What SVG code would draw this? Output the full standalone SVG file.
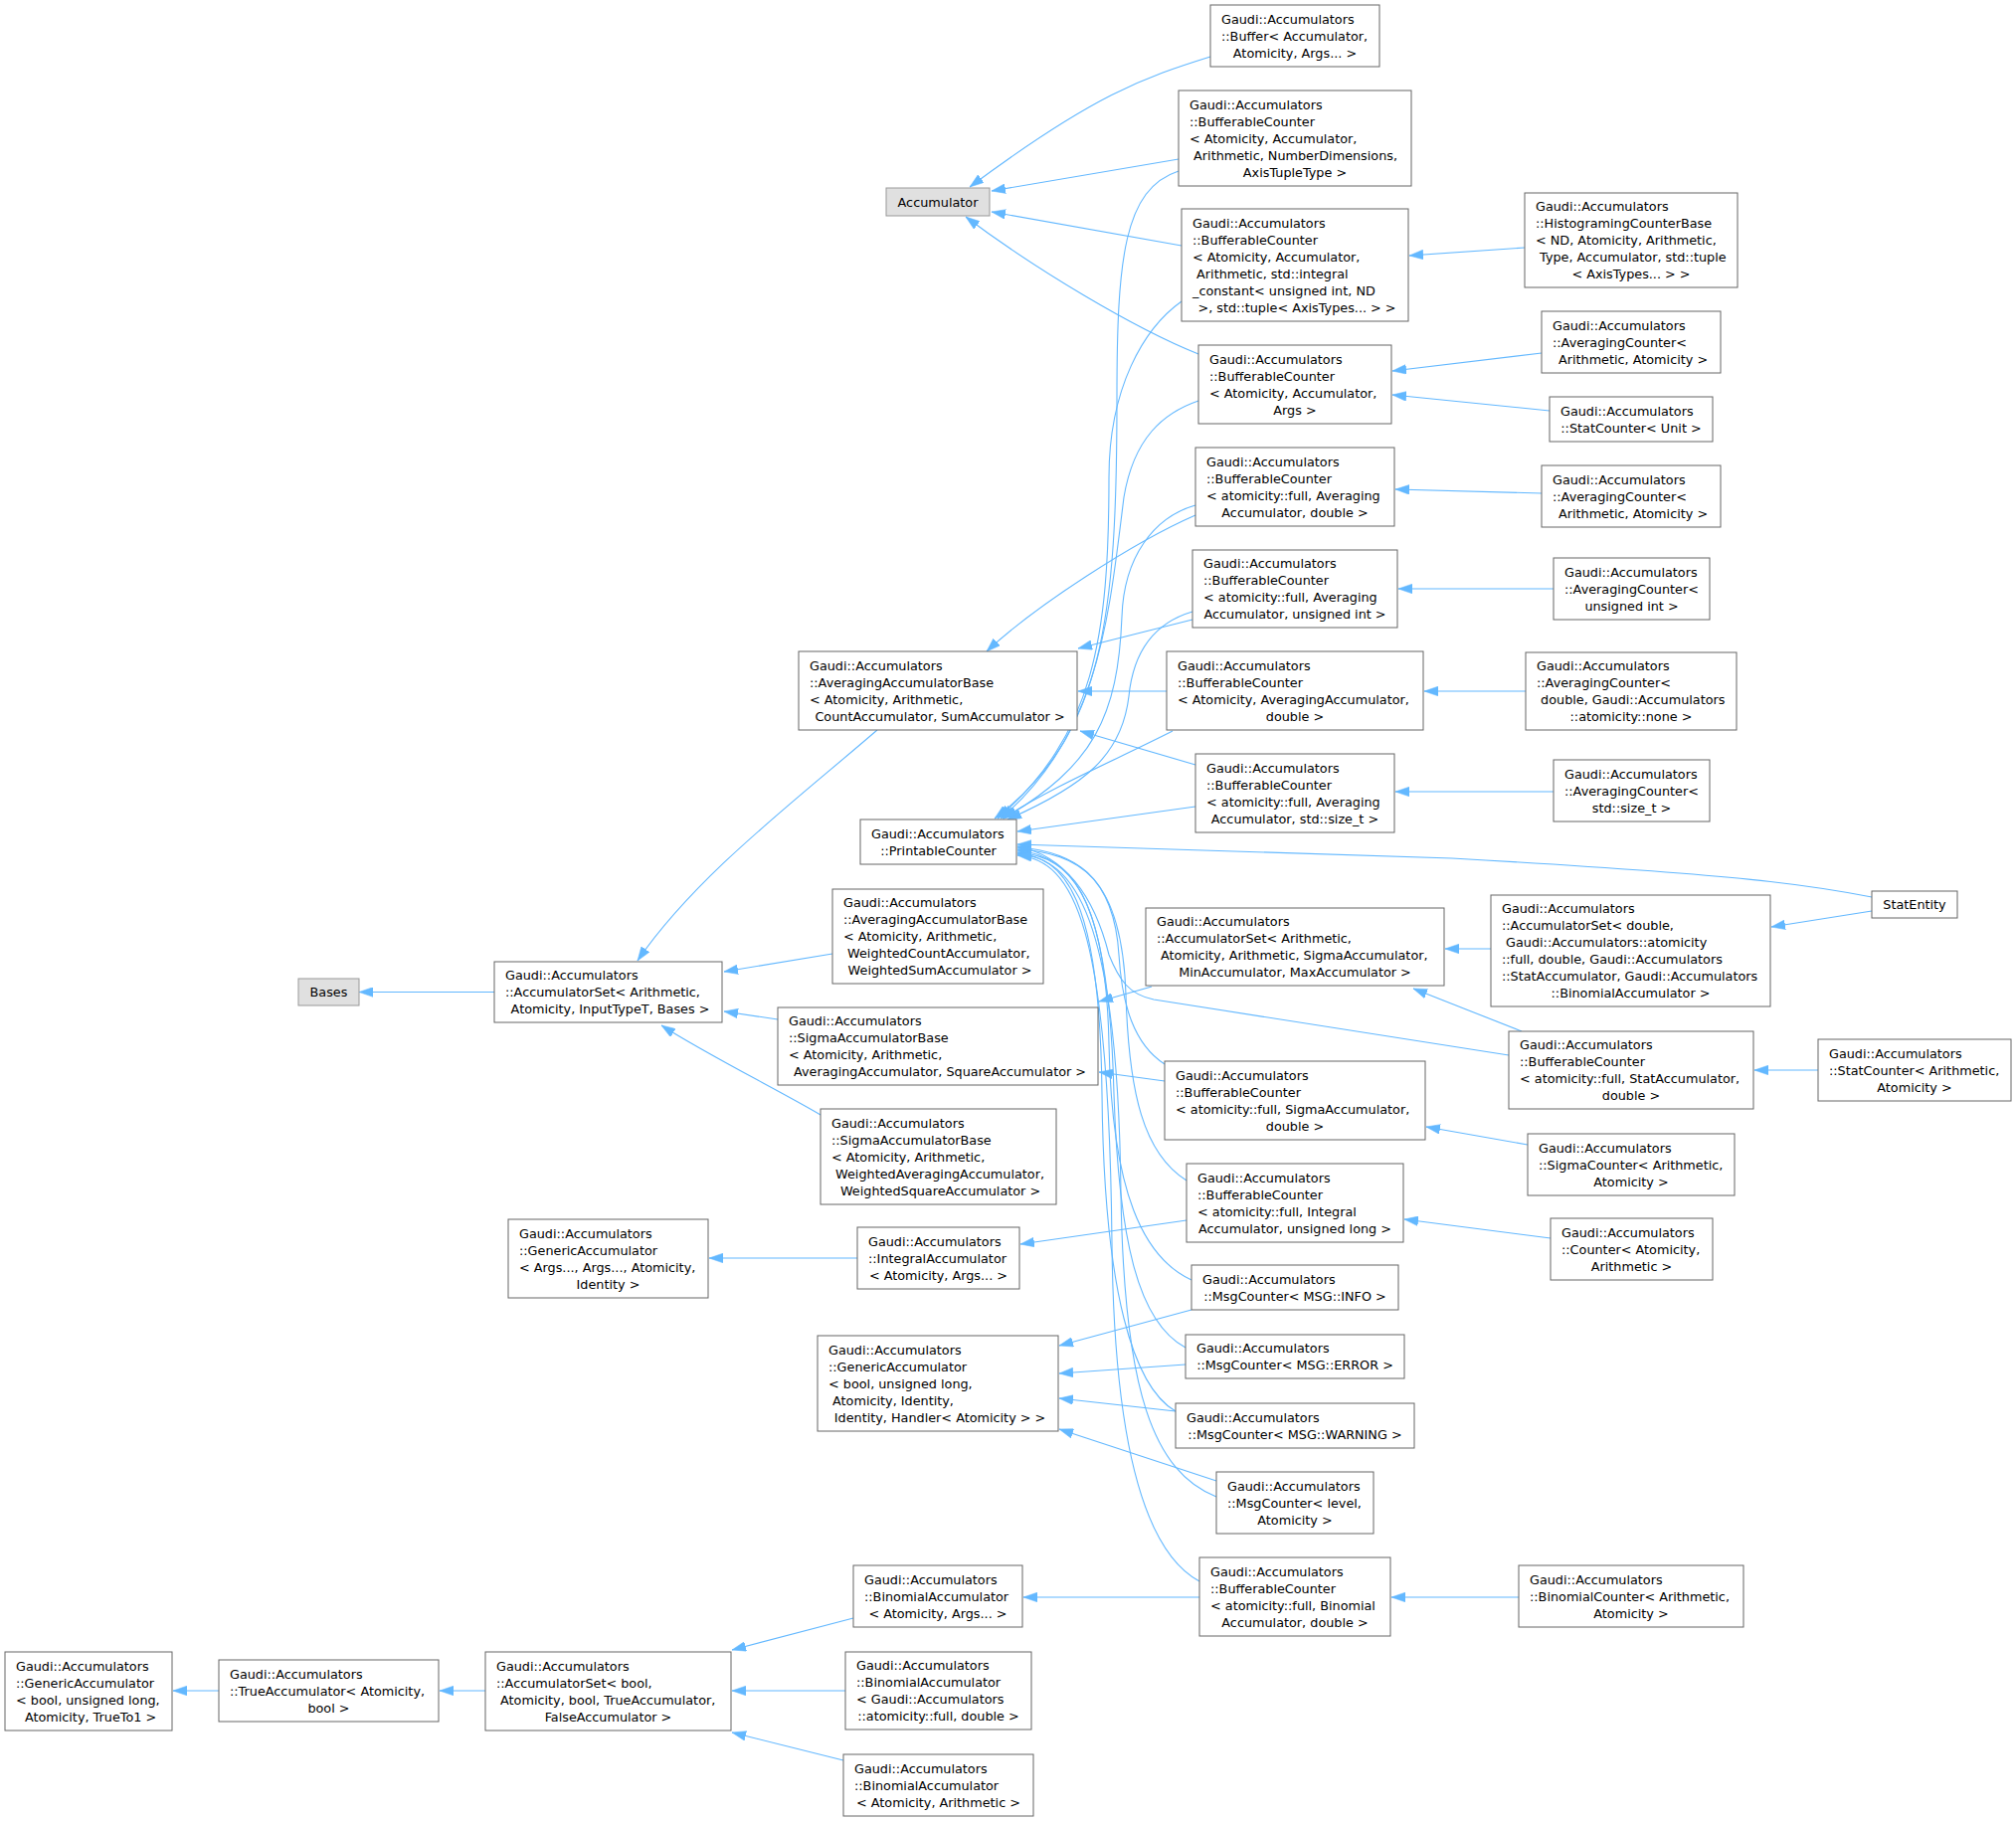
<svg xmlns="http://www.w3.org/2000/svg" width="2027" height="1831" viewBox="0 0 2027 1831" xml:space="preserve">
<style>
.n rect{fill:#fff;stroke:#666;stroke-width:1}
.g rect{fill:#e0e0e0;stroke:#999;stroke-width:1}
text{font-family:"DejaVu Sans",sans-serif;font-size:12.8px;fill:#000;white-space:pre}
.c{text-anchor:middle}
#edges path{fill:none;stroke:#63b8ff;stroke-width:1.1;marker-end:url(#a)}
</style>
<defs>
<marker id="a" markerUnits="userSpaceOnUse" markerWidth="14" markerHeight="10" viewBox="0 0 13 9" refX="13" refY="4.5" orient="auto"><path d="M0,0 L13,4.5 L0,9 z" fill="#63b8ff" stroke="#63b8ff" stroke-width="0.5"/></marker>
</defs>
<rect width="2027" height="1831" fill="#fff"/>
<g id="edges">
<path d="M497,997.5 L361,997.5"/>
<path d="M882,734 C800,805 700,880 641,966"/>
<path d="M837,959 L728,977"/>
<path d="M782,1025 L728,1017"/>
<path d="M825,1121 C790,1100 710,1060 665,1031"/>
<path d="M1217,57 C1150,78 1100,95 975,188"/>
<path d="M1185,160 L997,192"/>
<path d="M1188,247 L997,213"/>
<path d="M1205,356 C1140,330 1040,270 971,218"/>
<path d="M1533,249 L1417,257"/>
<path d="M1550,355 L1400,373"/>
<path d="M1558,413 L1400,397"/>
<path d="M1550,496 L1403,492"/>
<path d="M1562,592 L1406,592"/>
<path d="M1534,695 L1432,695"/>
<path d="M1562,796 L1403,796"/>
<path d="M1202,518 C1140,545 1040,610 992,655"/>
<path d="M1199,623 L1084,652"/>
<path d="M1173,695 L1084,695"/>
<path d="M1202,769 L1086,735"/>
<path d="M1185,172 C1130,190 1123,260 1123,400 C1123,620 1110,740 1000,823"/>
<path d="M1188,303 C1150,330 1115,390 1115,480 C1115,640 1100,740 1003,823"/>
<path d="M1205,403 C1170,415 1140,440 1130,500 C1115,620 1105,740 1006,823"/>
<path d="M1202,508 C1160,520 1130,560 1128,620 C1124,720 1100,770 1009,823"/>
<path d="M1199,615 C1165,625 1140,650 1135,700 C1128,760 1090,790 1013,824"/>
<path d="M1179,735 C1120,765 1060,790 1008,823"/>
<path d="M1202,811 L1023,836"/>
<path d="M1882,902 C1820,890 1760,880 1460,863 L1023,849"/>
<path d="M1517,1061 L1160,1005 C1135,1000 1125,985 1115,960 C1100,900 1070,860 1023,851"/>
<path d="M1171,1070 C1140,1050 1128,1010 1125,960 C1120,880 1080,856 1023,852"/>
<path d="M1193,1187 C1150,1160 1135,1100 1132,1000 C1128,880 1085,858 1023,854"/>
<path d="M1198,1287 C1150,1265 1118,1200 1115,1050 C1112,900 1075,860 1023,855"/>
<path d="M1192,1355 C1145,1330 1125,1250 1120,1100 C1115,900 1080,862 1023,857"/>
<path d="M1182,1419 C1140,1395 1110,1300 1108,1100 C1106,900 1070,862 1023,858"/>
<path d="M1223,1505 C1160,1480 1130,1400 1127,1200 C1124,920 1080,862 1023,859"/>
<path d="M1206,1590 C1150,1560 1120,1450 1118,1250 C1115,930 1080,865 1023,860"/>
<path d="M1171,1087 L1105,1078"/>
<path d="M1158,992 L1105,1007"/>
<path d="M1499,954 L1453,954"/>
<path d="M1530,1037 L1421,994"/>
<path d="M1882,916 L1781,932"/>
<path d="M1828,1076 L1764,1076"/>
<path d="M1536,1151 L1434,1133"/>
<path d="M1559,1245 L1412,1226"/>
<path d="M1193,1227 L1026,1251"/>
<path d="M862,1265 L713,1265"/>
<path d="M1198,1317 L1065,1353"/>
<path d="M1192,1372 L1065,1381"/>
<path d="M1182,1419 L1065,1406"/>
<path d="M1223,1489 L1065,1437"/>
<path d="M1527,1606 L1399,1606"/>
<path d="M1206,1606 L1029,1606"/>
<path d="M858,1627 L736,1659"/>
<path d="M850,1700 L736,1700"/>
<path d="M848,1770 L736,1742"/>
<path d="M488,1700 L442,1700"/>
<path d="M220,1700 L174,1700"/>
</g>
<g id="bases" class="g"><rect x="300" y="984" width="61" height="27"/><text class="c" x="330.5" y="1002">Bases</text></g>
<g id="accset" class="n"><rect x="497" y="967" width="229" height="61"/><text x="508" y="985">Gaudi::Accumulators</text><text x="508" y="1002">::AccumulatorSet&lt; Arithmetic,</text><text class="c" x="611.5" y="1019"> Atomicity, InputTypeT, Bases &gt;</text></g>
<g id="accumulator" class="g"><rect x="891" y="189" width="104" height="28"/><text class="c" x="943" y="207.5">Accumulator</text></g>
<g id="buffer" class="n"><rect x="1217" y="5" width="170" height="62"/><text x="1228" y="23.5">Gaudi::Accumulators</text><text x="1228" y="40.5">::Buffer&lt; Accumulator,</text><text class="c" x="1302" y="57.5">Atomicity, Args... &gt;</text></g>
<g id="bc_nd" class="n"><rect x="1185" y="91" width="234" height="96"/><text x="1196" y="109.5">Gaudi::Accumulators</text><text x="1196" y="126.5">::BufferableCounter</text><text x="1196" y="143.5">&lt; Atomicity, Accumulator,</text><text x="1196" y="160.5" xml:space="preserve"> Arithmetic, NumberDimensions,</text><text class="c" x="1302" y="177.5">AxisTupleType &gt;</text></g>
<g id="bc_int" class="n"><rect x="1188" y="210" width="228" height="113"/><text x="1199" y="228.5">Gaudi::Accumulators</text><text x="1199" y="245.5">::BufferableCounter</text><text x="1199" y="262.5">&lt; Atomicity, Accumulator,</text><text x="1199" y="279.5" xml:space="preserve"> Arithmetic, std::integral</text><text x="1199" y="296.5">_constant&lt; unsigned int, ND</text><text class="c" x="1302" y="313.5" xml:space="preserve"> &gt;, std::tuple&lt; AxisTypes... &gt; &gt;</text></g>
<g id="hist" class="n"><rect x="1533" y="194" width="214" height="95"/><text x="1544" y="212">Gaudi::Accumulators</text><text x="1544" y="229">::HistogramingCounterBase</text><text x="1544" y="246">&lt; ND, Atomicity, Arithmetic,</text><text x="1544" y="263" xml:space="preserve"> Type, Accumulator, std::tuple</text><text class="c" x="1640" y="280">&lt; AxisTypes... &gt; &gt;</text></g>
<g id="bc_args" class="n"><rect x="1205" y="347" width="194" height="79"/><text x="1216" y="365.5">Gaudi::Accumulators</text><text x="1216" y="382.5">::BufferableCounter</text><text x="1216" y="399.5">&lt; Atomicity, Accumulator,</text><text class="c" x="1302" y="416.5">Args &gt;</text></g>
<g id="avgc1" class="n"><rect x="1550" y="313" width="180" height="62"/><text x="1561" y="331.5">Gaudi::Accumulators</text><text x="1561" y="348.5">::AveragingCounter&lt;</text><text class="c" x="1640" y="365.5" xml:space="preserve"> Arithmetic, Atomicity &gt;</text></g>
<g id="statunit" class="n"><rect x="1558" y="399" width="164" height="45"/><text x="1569" y="417.5">Gaudi::Accumulators</text><text class="c" x="1640" y="434.5">::StatCounter&lt; Unit &gt;</text></g>
<g id="bc_fad" class="n"><rect x="1202" y="450" width="200" height="79"/><text x="1213" y="468.5">Gaudi::Accumulators</text><text x="1213" y="485.5">::BufferableCounter</text><text x="1213" y="502.5">&lt; atomicity::full, Averaging</text><text class="c" x="1302" y="519.5">Accumulator, double &gt;</text></g>
<g id="avgc2" class="n"><rect x="1550" y="468" width="180" height="62"/><text x="1561" y="486.5">Gaudi::Accumulators</text><text x="1561" y="503.5">::AveragingCounter&lt;</text><text class="c" x="1640" y="520.5" xml:space="preserve"> Arithmetic, Atomicity &gt;</text></g>
<g id="bc_fau" class="n"><rect x="1199" y="553" width="206" height="78"/><text x="1210" y="571">Gaudi::Accumulators</text><text x="1210" y="588">::BufferableCounter</text><text x="1210" y="605">&lt; atomicity::full, Averaging</text><text class="c" x="1302" y="622">Accumulator, unsigned int &gt;</text></g>
<g id="avgc_uint" class="n"><rect x="1562" y="561" width="157" height="62"/><text x="1573" y="579.5">Gaudi::Accumulators</text><text x="1573" y="596.5">::AveragingCounter&lt;</text><text class="c" x="1640.5" y="613.5">unsigned int &gt;</text></g>
<g id="aab" class="n"><rect x="803" y="655" width="280" height="79"/><text x="814" y="673.5">Gaudi::Accumulators</text><text x="814" y="690.5">::AveragingAccumulatorBase</text><text x="814" y="707.5">&lt; Atomicity, Arithmetic,</text><text class="c" x="943" y="724.5" xml:space="preserve"> CountAccumulator, SumAccumulator &gt;</text></g>
<g id="bc_aad" class="n"><rect x="1173" y="655" width="258" height="79"/><text x="1184" y="673.5">Gaudi::Accumulators</text><text x="1184" y="690.5">::BufferableCounter</text><text x="1184" y="707.5">&lt; Atomicity, AveragingAccumulator,</text><text class="c" x="1302" y="724.5">double &gt;</text></g>
<g id="avgc_dn" class="n"><rect x="1534" y="656" width="212" height="78"/><text x="1545" y="674">Gaudi::Accumulators</text><text x="1545" y="691">::AveragingCounter&lt;</text><text x="1545" y="708" xml:space="preserve"> double, Gaudi::Accumulators</text><text class="c" x="1640" y="725">::atomicity::none &gt;</text></g>
<g id="bc_fas" class="n"><rect x="1202" y="758" width="200" height="79"/><text x="1213" y="776.5">Gaudi::Accumulators</text><text x="1213" y="793.5">::BufferableCounter</text><text x="1213" y="810.5">&lt; atomicity::full, Averaging</text><text class="c" x="1302" y="827.5">Accumulator, std::size_t &gt;</text></g>
<g id="avgc_size" class="n"><rect x="1562" y="764" width="157" height="62"/><text x="1573" y="782.5">Gaudi::Accumulators</text><text x="1573" y="799.5">::AveragingCounter&lt;</text><text class="c" x="1640.5" y="816.5">std::size_t &gt;</text></g>
<g id="printable" class="n"><rect x="865" y="824" width="157" height="45"/><text x="876" y="842.5">Gaudi::Accumulators</text><text class="c" x="943.5" y="859.5">::PrintableCounter</text></g>
<g id="statentity" class="n"><rect x="1882" y="896" width="86" height="27"/><text class="c" x="1925" y="914">StatEntity</text></g>
<g id="aabw" class="n"><rect x="837" y="894" width="212" height="95"/><text x="848" y="912">Gaudi::Accumulators</text><text x="848" y="929">::AveragingAccumulatorBase</text><text x="848" y="946">&lt; Atomicity, Arithmetic,</text><text x="848" y="963" xml:space="preserve"> WeightedCountAccumulator,</text><text class="c" x="943" y="980" xml:space="preserve"> WeightedSumAccumulator &gt;</text></g>
<g id="accset_smm" class="n"><rect x="1152" y="913" width="300" height="78"/><text x="1163" y="931">Gaudi::Accumulators</text><text x="1163" y="948">::AccumulatorSet&lt; Arithmetic,</text><text x="1163" y="965" xml:space="preserve"> Atomicity, Arithmetic, SigmaAccumulator,</text><text class="c" x="1302" y="982">MinAccumulator, MaxAccumulator &gt;</text></g>
<g id="accset_d" class="n"><rect x="1499" y="900" width="281" height="112"/><text x="1510" y="918">Gaudi::Accumulators</text><text x="1510" y="935">::AccumulatorSet&lt; double,</text><text x="1510" y="952" xml:space="preserve"> Gaudi::Accumulators::atomicity</text><text x="1510" y="969">::full, double, Gaudi::Accumulators</text><text x="1510" y="986">::StatAccumulator, Gaudi::Accumulators</text><text class="c" x="1639.5" y="1003">::BinomialAccumulator &gt;</text></g>
<g id="sab" class="n"><rect x="782" y="1013" width="322" height="78"/><text x="793" y="1031">Gaudi::Accumulators</text><text x="793" y="1048">::SigmaAccumulatorBase</text><text x="793" y="1065">&lt; Atomicity, Arithmetic,</text><text class="c" x="943" y="1082" xml:space="preserve"> AveragingAccumulator, SquareAccumulator &gt;</text></g>
<g id="bc_sa" class="n"><rect x="1517" y="1037" width="246" height="78"/><text x="1528" y="1055">Gaudi::Accumulators</text><text x="1528" y="1072">::BufferableCounter</text><text x="1528" y="1089">&lt; atomicity::full, StatAccumulator,</text><text class="c" x="1640" y="1106">double &gt;</text></g>
<g id="statc" class="n"><rect x="1828" y="1045" width="194" height="62"/><text x="1839" y="1063.5">Gaudi::Accumulators</text><text x="1839" y="1080.5">::StatCounter&lt; Arithmetic,</text><text class="c" x="1925" y="1097.5">Atomicity &gt;</text></g>
<g id="bc_fsd" class="n"><rect x="1171" y="1067" width="262" height="79"/><text x="1182" y="1085.5">Gaudi::Accumulators</text><text x="1182" y="1102.5">::BufferableCounter</text><text x="1182" y="1119.5">&lt; atomicity::full, SigmaAccumulator,</text><text class="c" x="1302" y="1136.5">double &gt;</text></g>
<g id="sigmac" class="n"><rect x="1536" y="1140" width="208" height="62"/><text x="1547" y="1158.5">Gaudi::Accumulators</text><text x="1547" y="1175.5">::SigmaCounter&lt; Arithmetic,</text><text class="c" x="1640" y="1192.5">Atomicity &gt;</text></g>
<g id="sabw" class="n"><rect x="825" y="1115" width="237" height="96"/><text x="836" y="1133.5">Gaudi::Accumulators</text><text x="836" y="1150.5">::SigmaAccumulatorBase</text><text x="836" y="1167.5">&lt; Atomicity, Arithmetic,</text><text x="836" y="1184.5" xml:space="preserve"> WeightedAveragingAccumulator,</text><text class="c" x="943.5" y="1201.5" xml:space="preserve"> WeightedSquareAccumulator &gt;</text></g>
<g id="gen_args" class="n"><rect x="511" y="1226" width="201" height="79"/><text x="522" y="1244.5">Gaudi::Accumulators</text><text x="522" y="1261.5">::GenericAccumulator</text><text x="522" y="1278.5">&lt; Args..., Args..., Atomicity,</text><text class="c" x="611.5" y="1295.5">Identity &gt;</text></g>
<g id="integral" class="n"><rect x="862" y="1234" width="163" height="62"/><text x="873" y="1252.5">Gaudi::Accumulators</text><text x="873" y="1269.5">::IntegralAccumulator</text><text class="c" x="943.5" y="1286.5">&lt; Atomicity, Args... &gt;</text></g>
<g id="bc_fil" class="n"><rect x="1193" y="1170" width="218" height="79"/><text x="1204" y="1188.5">Gaudi::Accumulators</text><text x="1204" y="1205.5">::BufferableCounter</text><text x="1204" y="1222.5">&lt; atomicity::full, Integral</text><text class="c" x="1302" y="1239.5">Accumulator, unsigned long &gt;</text></g>
<g id="counter" class="n"><rect x="1559" y="1225" width="163" height="62"/><text x="1570" y="1243.5">Gaudi::Accumulators</text><text x="1570" y="1260.5">::Counter&lt; Atomicity,</text><text class="c" x="1640.5" y="1277.5">Arithmetic &gt;</text></g>
<g id="msg_info" class="n"><rect x="1198" y="1272" width="208" height="45"/><text x="1209" y="1290.5">Gaudi::Accumulators</text><text class="c" x="1302" y="1307.5">::MsgCounter&lt; MSG::INFO &gt;</text></g>
<g id="gen_bool" class="n"><rect x="822" y="1343" width="242" height="96"/><text x="833" y="1361.5">Gaudi::Accumulators</text><text x="833" y="1378.5">::GenericAccumulator</text><text x="833" y="1395.5">&lt; bool, unsigned long,</text><text x="833" y="1412.5" xml:space="preserve"> Atomicity, Identity,</text><text class="c" x="943" y="1429.5" xml:space="preserve"> Identity, Handler&lt; Atomicity &gt; &gt;</text></g>
<g id="msg_err" class="n"><rect x="1192" y="1342" width="220" height="44"/><text x="1203" y="1360">Gaudi::Accumulators</text><text class="c" x="1302" y="1377">::MsgCounter&lt; MSG::ERROR &gt;</text></g>
<g id="msg_warn" class="n"><rect x="1182" y="1411" width="240" height="45"/><text x="1193" y="1429.5">Gaudi::Accumulators</text><text class="c" x="1302" y="1446.5">::MsgCounter&lt; MSG::WARNING &gt;</text></g>
<g id="msg_level" class="n"><rect x="1223" y="1480" width="158" height="62"/><text x="1234" y="1498.5">Gaudi::Accumulators</text><text x="1234" y="1515.5">::MsgCounter&lt; level,</text><text class="c" x="1302" y="1532.5">Atomicity &gt;</text></g>
<g id="binacc_args" class="n"><rect x="858" y="1574" width="170" height="62"/><text x="869" y="1592.5">Gaudi::Accumulators</text><text x="869" y="1609.5">::BinomialAccumulator</text><text class="c" x="943" y="1626.5">&lt; Atomicity, Args... &gt;</text></g>
<g id="bc_fbd" class="n"><rect x="1206" y="1566" width="192" height="79"/><text x="1217" y="1584.5">Gaudi::Accumulators</text><text x="1217" y="1601.5">::BufferableCounter</text><text x="1217" y="1618.5">&lt; atomicity::full, Binomial</text><text class="c" x="1302" y="1635.5">Accumulator, double &gt;</text></g>
<g id="binc" class="n"><rect x="1527" y="1574" width="226" height="62"/><text x="1538" y="1592.5">Gaudi::Accumulators</text><text x="1538" y="1609.5">::BinomialCounter&lt; Arithmetic,</text><text class="c" x="1640" y="1626.5">Atomicity &gt;</text></g>
<g id="gen_true" class="n"><rect x="5" y="1661" width="168" height="79"/><text x="16" y="1679.5">Gaudi::Accumulators</text><text x="16" y="1696.5">::GenericAccumulator</text><text x="16" y="1713.5">&lt; bool, unsigned long,</text><text class="c" x="89" y="1730.5" xml:space="preserve"> Atomicity, TrueTo1 &gt;</text></g>
<g id="trueacc" class="n"><rect x="220" y="1669" width="221" height="62"/><text x="231" y="1687.5">Gaudi::Accumulators</text><text x="231" y="1704.5">::TrueAccumulator&lt; Atomicity,</text><text class="c" x="330.5" y="1721.5">bool &gt;</text></g>
<g id="accset_bool" class="n"><rect x="488" y="1661" width="247" height="79"/><text x="499" y="1679.5">Gaudi::Accumulators</text><text x="499" y="1696.5">::AccumulatorSet&lt; bool,</text><text x="499" y="1713.5" xml:space="preserve"> Atomicity, bool, TrueAccumulator,</text><text class="c" x="611.5" y="1730.5">FalseAccumulator &gt;</text></g>
<g id="binacc_fd" class="n"><rect x="850" y="1661" width="187" height="78"/><text x="861" y="1679">Gaudi::Accumulators</text><text x="861" y="1696">::BinomialAccumulator</text><text x="861" y="1713">&lt; Gaudi::Accumulators</text><text class="c" x="943.5" y="1730">::atomicity::full, double &gt;</text></g>
<g id="binacc_arith" class="n"><rect x="848" y="1764" width="191" height="62"/><text x="859" y="1782.5">Gaudi::Accumulators</text><text x="859" y="1799.5">::BinomialAccumulator</text><text class="c" x="943.5" y="1816.5">&lt; Atomicity, Arithmetic &gt;</text></g>
</svg>
